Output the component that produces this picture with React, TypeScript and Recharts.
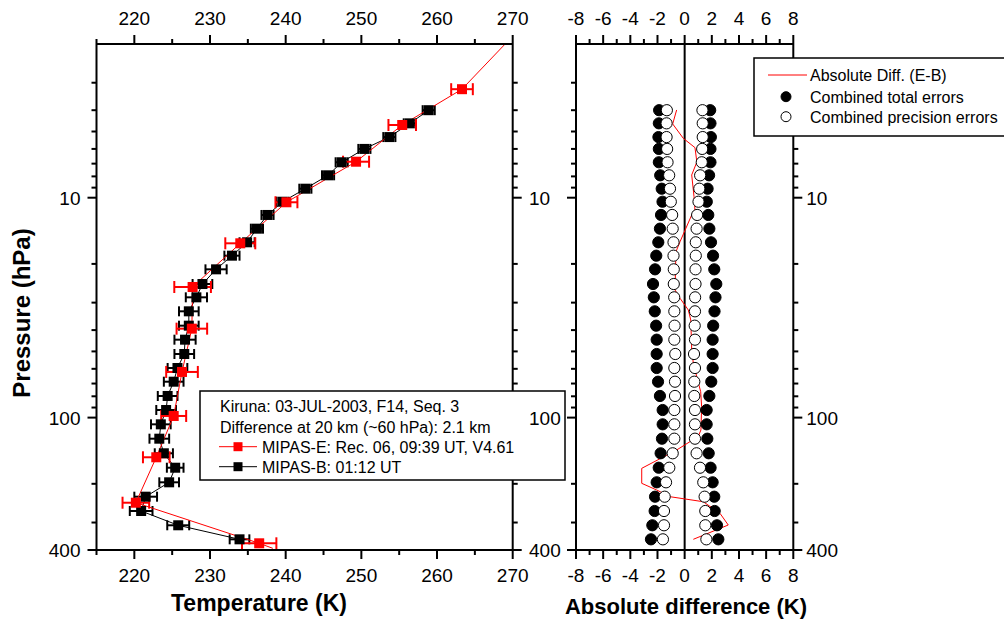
import React from 'react';
import { ComposedChart, Line, Scatter, XAxis, YAxis, ErrorBar, ReferenceLine } from 'recharts';

const FONT = "'Liberation Sans', Arial, Helvetica, sans-serif";

// MIPAS-B profile (hPa, K, K)
const bPressure = [4.0, 4.59, 5.3, 6.0, 6.9, 7.91, 9.1, 10.43, 11.98, 13.83, 15.95, 18.35, 21.17, 24.69, 28.38, 32.86, 38.19, 44.22, 51.37, 59.49, 68.66, 79.73, 92.36, 107.3, 124.7, 145.3, 169.0, 196.9, 228.9, 265.9, 308.8, 357.7];
const bTemp = [258.9, 256.4, 253.7, 250.4, 247.4, 245.6, 242.6, 239.6, 237.6, 236.2, 234.9, 232.9, 230.8, 229.0, 228.2, 227.2, 227.2, 226.7, 226.6, 225.7, 225.2, 224.4, 224.2, 223.5, 223.3, 223.9, 225.4, 224.6, 221.5, 220.9, 225.8, 233.9];
const bErr = [0.8, 0.8, 0.8, 0.8, 0.8, 0.8, 0.8, 0.8, 0.8, 0.8, 1.0, 1.0, 1.4, 1.3, 1.4, 1.3, 1.3, 1.4, 1.3, 1.3, 1.3, 1.3, 1.3, 1.3, 1.3, 1.2, 1.1, 1.3, 1.5, 1.5, 1.45, 1.3];

// MIPAS-E profile (hPa, K, K)
const ePressure = [2.0, 3.21, 4.67, 6.86, 10.49, 16.12, 25.47, 39.4, 62.0, 98.3, 151.5, 243.8, 372.9, 393];
const eTemp = [269.0, 263.3, 255.4, 249.3, 240.1, 234.0, 227.7, 227.6, 226.3, 225.2, 222.9, 220.2, 236.5, 238.3];
const eErr: (number | null)[] = [null, 1.43, 1.82, 1.72, 1.45, 1.98, 2.42, 2.02, 2.09, 1.65, 1.76, 1.76, 2.27, null];

// Right panel: combined errors at MIPAS-B levels (K)
const totalErr = [1.88, 1.9, 1.93, 1.9, 1.9, 1.8, 1.69, 1.63, 1.74, 1.82, 1.94, 2.09, 2.18, 2.33, 2.27, 2.2, 2.1, 2.06, 2.06, 2.06, 1.96, 1.82, 1.62, 1.62, 1.67, 1.77, 1.91, 2.06, 2.18, 2.21, 2.38, 2.48];
const precErr = [1.31, 1.33, 1.33, 1.29, 1.26, 1.14, 1.08, 1.02, 0.92, 0.88, 0.82, 0.82, 0.8, 0.8, 0.77, 0.76, 0.74, 0.76, 0.69, 0.76, 0.71, 0.71, 0.76, 0.76, 0.76, 0.88, 1.13, 1.37, 1.47, 1.52, 1.52, 1.6];

// Absolute difference E-B
const diffP = [3.99, 4.62, 5.37, 5.92, 6.88, 7.88, 9.89, 11.37, 11.98, 15.85, 17.6, 26.28, 28.67, 32.41, 35.98, 49.26, 56.62, 65.16, 76.23, 89.22, 113.8, 122.1, 128.7, 140.4, 170.1, 199.0, 213.4, 228.9, 241.3, 272.4, 307.9, 357.6];
const diffK = [-0.59, -0.88, -0.1, 0.76, 0.9, 0.52, 0.69, 0.76, 0.52, -0.34, -0.64, -0.71, -0.34, 0.27, 0.45, 0.52, 0.64, 0.89, 1.18, 1.25, 1.2, 0.99, 0.39, -0.59, -3.16, -3.16, -2.06, -1.08, 1.37, 2.6, 3.21, 0.64];

const tempTicks = [215, 220, 225, 230, 235, 240, 245, 250, 255, 260, 265, 270];
const diffTicks = [-8, -7, -6, -5, -4, -3, -2, -1, 0, 1, 2, 3, 4, 5, 6, 7, 8];
const pressureTicks = [3, 4, 5, 6, 7, 8, 9, 10, 20, 30, 40, 50, 60, 70, 80, 90, 100, 200, 300, 400];
const pressureLabels = [10, 100, 400];

const bData = bPressure.map((p, i) => ({ p, t: bTemp[i], err: bErr[i] }));
const eLineData = ePressure.map((p, i) => ({ p, t: eTemp[i] }));
const eMarkData = ePressure
  .map((p, i) => ({ p, t: eTemp[i], err: eErr[i] }))
  .filter((d) => d.err != null);
const diffData = diffP.map((p, i) => ({ p, k: diffK[i] }));
const totalData = bPressure.flatMap((p, i) => [{ p, k: -totalErr[i] }, { p, k: totalErr[i] }]);
const precData = bPressure.flatMap((p, i) => [{ p, k: -precErr[i] }, { p, k: precErr[i] }]);

type Side = 'top' | 'bottom' | 'left' | 'right';
const TICK_FS = 19;

const makeTick = (
  side: Side,
  isMajor: (v: number) => boolean,
  label: (v: number) => string | null,
  labelDx = 0,
  anchor: 'start' | 'middle' | 'end' = 'middle'
) => (props: any) => {
  const { x, y, payload } = props;
  const v = payload.value;
  const len = isMajor(v) ? 9 : 5;
  const lab = label(v);
  let x2 = x, y2 = y, tx = x, ty = y;
  if (side === 'bottom') { y2 = y + len; ty = y + 32; }
  if (side === 'top') { y2 = y - len; ty = y - 19; }
  if (side === 'left') { x2 = x - len; tx = x + labelDx; ty = y + 7; }
  if (side === 'right') { x2 = x + len; tx = x + labelDx; ty = y + 7; }
  return (
    <g>
      <line x1={x} y1={y} x2={x2} y2={y2} stroke="#000" strokeWidth={2} />
      {lab != null && (
        <text x={tx} y={ty} textAnchor={anchor} fontSize={TICK_FS} fontFamily={FONT} fill="#000">
          {lab}
        </text>
      )}
    </g>
  );
};

const tempMajor = (v: number) => v % 10 === 0;
const tempLabel = (v: number) => (v % 10 === 0 ? String(v) : null);
const diffMajor = (v: number) => v % 2 === 0;
const diffLabel = (v: number) => (v % 2 === 0 ? String(v) : null);
const pMajor = (v: number) => pressureLabels.includes(v);
const pLabel = (v: number) => (pressureLabels.includes(v) ? String(v) : null);
const noLabel = () => null;

const axisLine = { stroke: '#000', strokeWidth: 2 };

const RedSquare = (props: any) => (
  <rect x={props.cx - 5} y={props.cy - 5} width={10} height={10} fill="#ff0000" />
);
const BlackSquare = (props: any) => (
  <rect x={props.cx - 5} y={props.cy - 5} width={10} height={10} fill="#000" />
);
const FilledCircle = (props: any) => (
  <circle cx={props.cx} cy={props.cy} r={5.6} fill="#000" stroke="#000" strokeWidth={1} />
);
const OpenCircle = (props: any) => (
  <circle cx={props.cx} cy={props.cy} r={5.6} fill="#fff" stroke="#000" strokeWidth={1} />
);

function TemperaturePanel() {
  return (
    <ComposedChart width={540} height={627} margin={{ top: 4, bottom: 37, left: 36.5, right: 7.3 }}>
      <XAxis xAxisId="b" dataKey="t" type="number" domain={[215, 270]} allowDataOverflow ticks={tempTicks}
        interval={0} tickSize={0} tickMargin={0} tickLine={false} axisLine={axisLine} height={40}
        tick={makeTick('bottom', tempMajor, tempLabel)} />
      <XAxis xAxisId="t" orientation="top" dataKey="t" type="number" domain={[215, 270]} allowDataOverflow ticks={tempTicks}
        interval={0} tickSize={0} tickMargin={0} tickLine={false} axisLine={axisLine} height={40}
        tick={makeTick('top', tempMajor, tempLabel)} />
      <YAxis yAxisId="l" dataKey="p" type="number" scale="log" domain={[2, 400]} allowDataOverflow reversed ticks={pressureTicks}
        interval={0} tickSize={0} tickMargin={0} tickLine={false} axisLine={axisLine} width={60}
        tick={makeTick('left', pMajor, pLabel, -16, 'end')} />
      <YAxis yAxisId="r" orientation="right" dataKey="p" type="number" scale="log" domain={[2, 400]} allowDataOverflow reversed ticks={pressureTicks}
        interval={0} tickSize={0} tickMargin={0} tickLine={false} axisLine={axisLine} width={20}
        tick={makeTick('right', pMajor, noLabel)} />
      <Line xAxisId="b" yAxisId="l" data={bData} dataKey="p" stroke="#000" strokeWidth={1} dot={false} isAnimationActive={false} />
      <Scatter xAxisId="b" yAxisId="l" data={bData} dataKey="p" shape={BlackSquare} isAnimationActive={false}>
        <ErrorBar dataKey="err" direction="x" width={5} stroke="#000" strokeWidth={2} />
      </Scatter>
      <Line xAxisId="b" yAxisId="l" data={eLineData} dataKey="p" stroke="#ff0000" strokeWidth={1} dot={false} isAnimationActive={false} />
      <Scatter xAxisId="b" yAxisId="l" data={eMarkData} dataKey="p" shape={RedSquare} isAnimationActive={false}>
        <ErrorBar dataKey="err" direction="x" width={6} stroke="#ff0000" strokeWidth={2} />
      </Scatter>
    </ComposedChart>
  );
}

function DifferencePanel() {
  return (
    <ComposedChart width={484} height={627} margin={{ top: 4, bottom: 37, left: 6, right: 170.7 }}>
      <XAxis xAxisId="b" dataKey="k" type="number" domain={[-8, 8]} allowDataOverflow ticks={diffTicks}
        interval={0} tickSize={0} tickMargin={0} tickLine={false} axisLine={axisLine} height={40}
        tick={makeTick('bottom', diffMajor, diffLabel)} />
      <XAxis xAxisId="t" orientation="top" dataKey="k" type="number" domain={[-8, 8]} allowDataOverflow ticks={diffTicks}
        interval={0} tickSize={0} tickMargin={0} tickLine={false} axisLine={axisLine} height={40}
        tick={makeTick('top', diffMajor, diffLabel)} />
      <YAxis yAxisId="l" dataKey="p" type="number" scale="log" domain={[2, 400]} allowDataOverflow reversed ticks={pressureTicks}
        interval={0} tickSize={0} tickMargin={0} tickLine={false} axisLine={axisLine} width={50}
        tick={makeTick('left', pMajor, pLabel, -47, 'start')} />
      <YAxis yAxisId="r" orientation="right" dataKey="p" type="number" scale="log" domain={[2, 400]} allowDataOverflow reversed ticks={pressureTicks}
        interval={0} tickSize={0} tickMargin={0} tickLine={false} axisLine={axisLine} width={40}
        tick={makeTick('right', pMajor, pLabel, 13, 'start')} />
      <ReferenceLine xAxisId="b" yAxisId="l" x={0} stroke="#000" strokeWidth={2} />
      <Line xAxisId="b" yAxisId="l" data={diffData} dataKey="p" stroke="#ff0000" strokeWidth={1} dot={false} isAnimationActive={false} />
      <Scatter xAxisId="b" yAxisId="l" data={totalData} dataKey="p" shape={FilledCircle} isAnimationActive={false} />
      <Scatter xAxisId="b" yAxisId="l" data={precData} dataKey="p" shape={OpenCircle} isAnimationActive={false} />
    </ComposedChart>
  );
}

function LeftOverlay() {
  return (
    <svg width={1004} height={627} style={{ position: 'absolute', left: 0, top: 0 }} fontFamily={FONT}>
      <text x={259} y={611} textAnchor="middle" fontSize={23} fontWeight="bold">Temperature (K)</text>
      <text x={30} y={313} textAnchor="middle" fontSize={24} fontWeight="bold" transform="rotate(-90 30 313)">Pressure (hPa)</text>

      <rect x={200} y={391} width={365} height={89} fill="#fff" stroke="#000" strokeWidth={1.5} />
      <text x={220} y={412} fontSize={16}>Kiruna: 03-JUL-2003, F14, Seq. 3</text>
      <text x={220} y={432.5} fontSize={16}>Difference at 20 km (~60 hPa): 2.1 km</text>
      <line x1={219} y1={446.7} x2={257} y2={446.7} stroke="#ff0000" strokeWidth={1} />
      <rect x={233.5} y={442.2} width={9} height={9} fill="#ff0000" />
      <text x={262} y={452.5} fontSize={16}>MIPAS-E: Rec. 06, 09:39 UT, V4.61</text>
      <line x1={219} y1={466.7} x2={257} y2={466.7} stroke="#000" strokeWidth={1} />
      <rect x={233.5} y={462.2} width={9} height={9} fill="#000" />
      <text x={262} y={472.5} fontSize={16}>MIPAS-B: 01:12 UT</text>
    </svg>
  );
}

function RightOverlay() {
  return (
    <svg width={1004} height={627} style={{ position: 'absolute', left: 0, top: 0 }} fontFamily={FONT}>
      <text x={686} y={614} textAnchor="middle" fontSize={22} fontWeight="bold">Absolute difference (K)</text>
      <rect x={754} y={58} width={270} height={78} fill="#fff" stroke="#000" strokeWidth={1.5} />
      <line x1={768} y1={75} x2={807} y2={75} stroke="#ff0000" strokeWidth={1} />
      <text x={810} y={81} fontSize={16}>Absolute Diff. (E-B)</text>
      <circle cx={786} cy={96.7} r={5} fill="#000" stroke="#000" />
      <text x={810} y={102.5} fontSize={16}>Combined total errors</text>
      <circle cx={786} cy={116.7} r={5} fill="#fff" stroke="#000" />
      <text x={810} y={122.5} fontSize={16}>Combined precision errors</text>
    </svg>
  );
}

export default function App() {
  return (
    <div style={{ position: 'absolute', left: 0, top: 0, width: 1004, height: 627, background: '#fff', overflow: 'hidden' }}>
      <div style={{ position: 'absolute', left: 0, top: 0 }}>
        <TemperaturePanel />
      </div>
      <LeftOverlay />
      <div style={{ position: 'absolute', left: 520, top: 0 }}>
        <DifferencePanel />
      </div>
      <RightOverlay />
    </div>
  );
}
